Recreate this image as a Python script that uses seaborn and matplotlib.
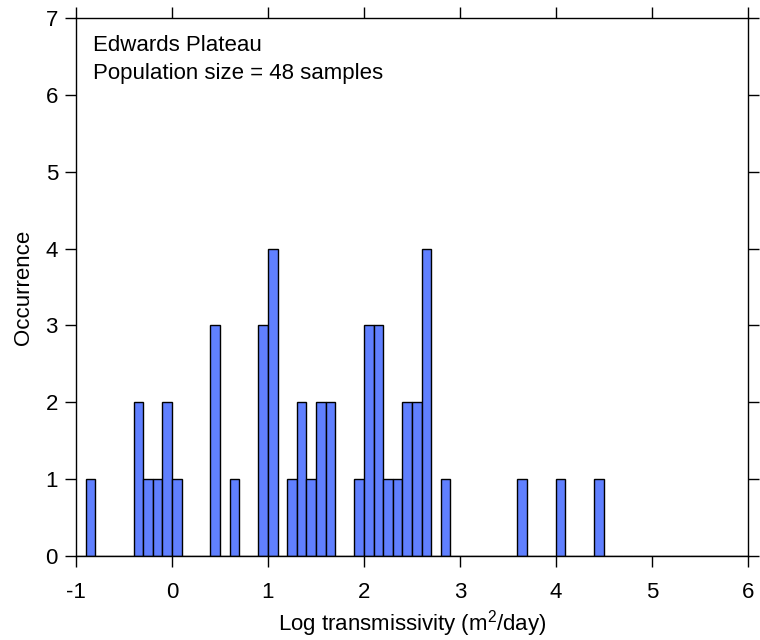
import numpy as np
import pandas as pd
import matplotlib
matplotlib.use("Agg")
import matplotlib.pyplot as plt
import seaborn as sns

# bin left edges (log10 m^2/day) and occurrence counts, bin width 0.1
bin_left = [-0.9, -0.4, -0.3, -0.2, -0.1, 0.0, 0.4, 0.6, 0.9, 1.0,
            1.2, 1.3, 1.4, 1.5, 1.6, 1.9, 2.0, 2.1, 2.2, 2.3,
            2.4, 2.5, 2.6, 2.8, 3.6, 4.0, 4.4]
counts = [1, 2, 1, 1, 2, 1, 3, 1, 3, 4,
          1, 2, 1, 2, 2, 1, 3, 3, 1, 1,
          2, 2, 4, 1, 1, 1, 1]
x_ticks = [-1, 0, 1, 2, 3, 4, 5, 6]
y_ticks = [0, 1, 2, 3, 4, 5, 6, 7]

sns.set_style("ticks")
plt.rcParams['font.family'] = ['Liberation Sans', 'DejaVu Sans']
plt.rcParams['text.color'] = 'black'
plt.rcParams['axes.labelcolor'] = 'black'
plt.rcParams['mathtext.fontset'] = 'custom'
plt.rcParams['mathtext.rm'] = 'Liberation Sans'
plt.rcParams['mathtext.it'] = 'Liberation Sans:italic'
plt.rcParams['mathtext.bf'] = 'Liberation Sans:bold'

df = pd.DataFrame({"logT": np.array(bin_left) + 0.05, "n": counts})

fig = plt.figure(figsize=(7.6, 6.4), dpi=100)
ax = fig.add_axes([0.1, 0.131, 0.884, 0.841])
sns.histplot(data=df, x="logT", weights="n", binwidth=0.1, binrange=(-1.0, 6.0),
             ax=ax, color="#6080ff", edgecolor="black", linewidth=1.0, alpha=1.0)

ax.set_xlim(-1, 6)
ax.set_ylim(0, 7)
ax.set_xticks(x_ticks)
ax.set_xticklabels([str(t) for t in x_ticks])
ax.set_yticks(y_ticks)
for s in ax.spines.values():
    s.set_visible(True)
    s.set_color("black")
    s.set_linewidth(1.0)
ax.tick_params(axis="both", which="both", direction="out", length=8, width=1,
               labelsize=16, colors="black", top=True, right=True,
               labeltop=False, labelright=False)
ax.tick_params(axis="x", pad=10.5)
ax.tick_params(axis="y", pad=5)

ax.set_xlabel("Log transmissivity (m$^{\\mathrm{2}}$/day)", fontsize=16, labelpad=4)
ax.set_ylabel("Occurrence", fontsize=16, labelpad=8)
ax.text(0.025, 0.968, "Edwards Plateau\nPopulation size = 48 samples",
        transform=ax.transAxes, fontsize=16, va="top", ha="left",
        linespacing=1.42)

fig.savefig("out.png", dpi=100)
